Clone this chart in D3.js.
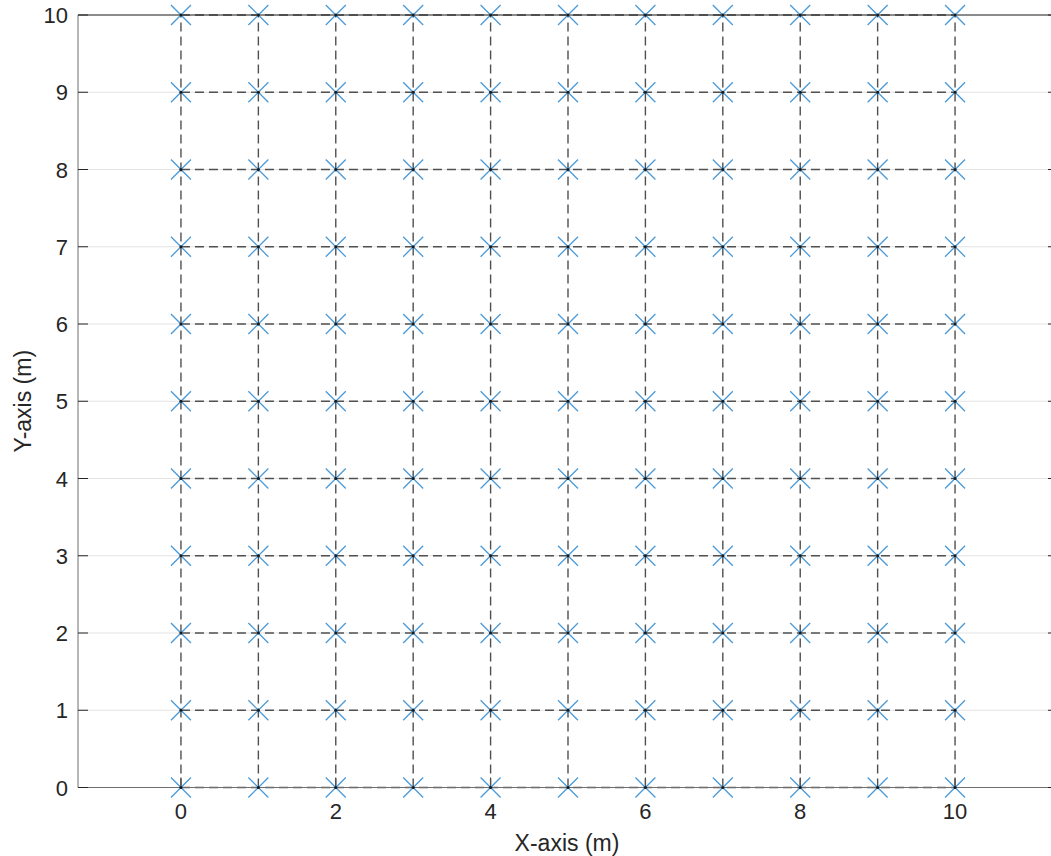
<!doctype html>
<html lang="en">
<head>
<meta charset="utf-8">
<style>
  body { margin: 0; background: #fff; }
  svg text { font-family: "Liberation Sans", Arial, sans-serif; fill: #262626; }
</style>
</head>
<body>
<div id="grafico"></div>
<script src="https://d3js.org/d3.v7.min.js"></script>
<script>

// grid node coordinates (m)
var xValues = [0, 1, 2, 3, 4, 5, 6, 7, 8, 9, 10];
var yValues = [0, 1, 2, 3, 4, 5, 6, 7, 8, 9, 10];
var xTicks = [0, 2, 4, 6, 8, 10];
var yTicks = [0, 1, 2, 3, 4, 5, 6, 7, 8, 9, 10];

var w = 1051, h = 856;
var mLeft = 78, mRight = 1058, mTop = 15, mBottom = 787.5;

var x = d3.scaleLinear().domain([-1.33, 11.33]).range([mLeft, mRight]);
var y = d3.scaleLinear().domain([0, 10]).range([mBottom, mTop]);

var svg = d3.select("#grafico").append("svg").attr("width", w).attr("height", h);

// horizontal grid
svg.append("g").selectAll("line").data(yTicks).enter().append("line")
  .attr("x1", mLeft).attr("x2", mRight)
  .attr("y1", function(d){ return y(d) }).attr("y2", function(d){ return y(d) })
  .attr("stroke", "#e3e3e3").attr("stroke-width", 1);

// x ticks (inward, under the mesh)
svg.append("g").selectAll("line").data(xTicks).enter().append("line")
  .attr("x1", function(d){ return x(d) }).attr("x2", function(d){ return x(d) })
  .attr("y1", mBottom).attr("y2", mBottom - 10)
  .attr("stroke", "#262626");

// nodes
var nodes = [];
xValues.forEach(function(a){ yValues.forEach(function(b){ nodes.push({x:a, y:b}) }) });

var line = d3.line().x(function(d){ return x(d.x) }).y(function(d){ return y(d.y) });

var mesh = svg.append("g").attr("fill", "none").attr("stroke", "#505050")
  .attr("stroke-width", 1.4).attr("stroke-dasharray", "9,5");

xValues.forEach(function(a){
  mesh.append("path").attr("d", line(yValues.map(function(b){ return {x:a, y:b} })));
});
yValues.forEach(function(b){
  mesh.append("path").attr("d", line(xValues.map(function(a){ return {x:a, y:b} })));
});

// axes box
var ax = svg.append("g").attr("stroke", "#262626").attr("stroke-width", 1).attr("fill", "none");
ax.append("line").attr("x1", mLeft).attr("x2", mRight).attr("y1", mTop).attr("y2", mTop);
ax.append("line").attr("x1", mLeft).attr("x2", mRight).attr("y1", mBottom).attr("y2", mBottom).attr("stroke", "#6e6e6e");
ax.append("line").attr("x1", mLeft).attr("x2", mLeft).attr("y1", mTop).attr("y2", mBottom).attr("stroke", "#6e6e6e");

// y ticks (inward, both sides)
svg.append("g").selectAll("line").data(yTicks).enter().append("line")
  .attr("x1", mLeft).attr("x2", mLeft + 10)
  .attr("y1", function(d){ return y(d) }).attr("y2", function(d){ return y(d) })
  .attr("stroke", "#262626");
svg.append("g").selectAll("line").data(yTicks).enter().append("line")
  .attr("x1", mRight - 10).attr("x2", mRight)
  .attr("y1", function(d){ return y(d) }).attr("y2", function(d){ return y(d) })
  .attr("stroke", "#262626");

// markers
var s = 10;
var mk = svg.append("g").selectAll("g").data(nodes).enter().append("g")
  .attr("transform", function(d){ return "translate(" + x(d.x) + "," + y(d.y) + ")" });
mk.append("path").attr("d", "M" + (-s) + "," + (-s) + "L" + s + "," + s + "M" + (-s) + "," + s + "L" + s + "," + (-s))
  .attr("stroke", "#4a9ad8").attr("stroke-width", 1.3).attr("fill", "none");
mk.append("circle").attr("r", 1.5).attr("fill", "#1a1a1a");

// tick labels
svg.append("g").selectAll("text").data(yTicks).enter().append("text")
  .text(function(d){ return d }).attr("x", 68).attr("y", function(d){ return y(d) + 8 })
  .attr("text-anchor", "end").style("font-size", "22px");
svg.append("g").selectAll("text").data(xTicks).enter().append("text")
  .text(function(d){ return d }).attr("x", function(d){ return x(d) }).attr("y", 819)
  .attr("text-anchor", "middle").style("font-size", "22px");

// axis labels
svg.append("text").text("X-axis (m)").attr("x", (mLeft + mRight) / 2 - 1).attr("y", 851)
  .attr("text-anchor", "middle").style("font-size", "23px");
svg.append("text").text("Y-axis (m)")
  .attr("transform", "translate(31," + ((mTop + mBottom) / 2) + ") rotate(-90)")
  .attr("text-anchor", "middle").style("font-size", "23px");

</script>
</body>
</html>
